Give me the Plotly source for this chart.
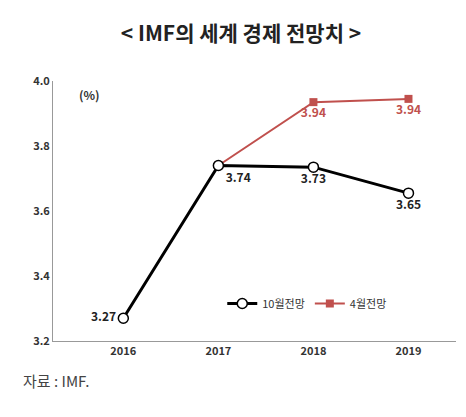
import plotly.graph_objects as go

years = ["2016", "2017", "2018", "2019"]
oct_vals = [3.27, 3.74, 3.735, 3.655]
oct_labels = ["<b>3.27</b>", "<b>3.74</b>", "<b>3.73</b>", "<b>3.65</b>"]
apr_years = ["2017", "2018", "2019"]
apr_vals = [3.74, 3.935, 3.945]
apr_labels = ["", "<b>3.94</b>", "<b>3.94</b>"]

F = "Noto Sans CJK KR"
fig = go.Figure()
fig.add_trace(go.Scatter(x=apr_years, y=apr_vals, mode="lines+markers+text", name="4월전망",
    line=dict(color="#c0504d", width=2), marker=dict(symbol="square", size=8, color="#c0504d"),
    text=apr_labels, textposition="bottom center",
    textfont=dict(color="#c0504d", size=12, family=F)))
fig.add_trace(go.Scatter(x=years, y=oct_vals, mode="lines+markers+text", name="10월전망",
    line=dict(color="black", width=3),
    marker=dict(symbol="circle", size=10, color="white", line=dict(color="black", width=1.5)),
    text=oct_labels, textposition=["middle left", "bottom right", "bottom center", "bottom center"],
    textfont=dict(color="#222", size=12, family=F)))
fig.update_layout(
    width=466, height=417, paper_bgcolor="white", plot_bgcolor="white",
    margin=dict(l=45, r=18, t=73, b=84),
    font=dict(family=F, color="#333"),
    title=dict(text="<b>< IMF의 세계 경제 전망치 ></b>", x=0.5, y=0.955, xanchor="center",
               font=dict(size=21, color="#222", family=F)),
    xaxis=dict(type="category", categoryorder="array", categoryarray=years,
               range=[-0.74, 3.5], showgrid=False, showline=True,
               linecolor="#999", tickfont=dict(size=11, color="#333"), ticks="",
               tickvals=years, ticktext=["<b>%s</b>" % y for y in years]),
    yaxis=dict(range=[3.2, 4.0], dtick=0.2, tickformat=".1f", showgrid=False, showline=True,
               linecolor="#999", tickfont=dict(size=11, color="#333"), zeroline=False,
               tickvals=[3.2, 3.4, 3.6, 3.8, 4.0],
               ticktext=["<b>3.2</b>", "<b>3.4</b>", "<b>3.6</b>", "<b>3.8</b>", "<b>4.0</b>"]),
    legend=dict(orientation="h", x=0.42, y=0.2, traceorder="reversed",
                font=dict(size=11, family=F), bgcolor="rgba(0,0,0,0)"),
    showlegend=True,
    annotations=[
        dict(text="<b>(%)</b>", x=0.06, y=3.96, xref="paper", yref="y", showarrow=False,
             font=dict(size=12)),
        dict(text="자료 : IMF.", x=-0.08, y=-0.2, xref="paper", yref="paper", xanchor="left",
             showarrow=False, font=dict(size=15, color="#444")),
    ],
)
fig.write_html("out.html")
